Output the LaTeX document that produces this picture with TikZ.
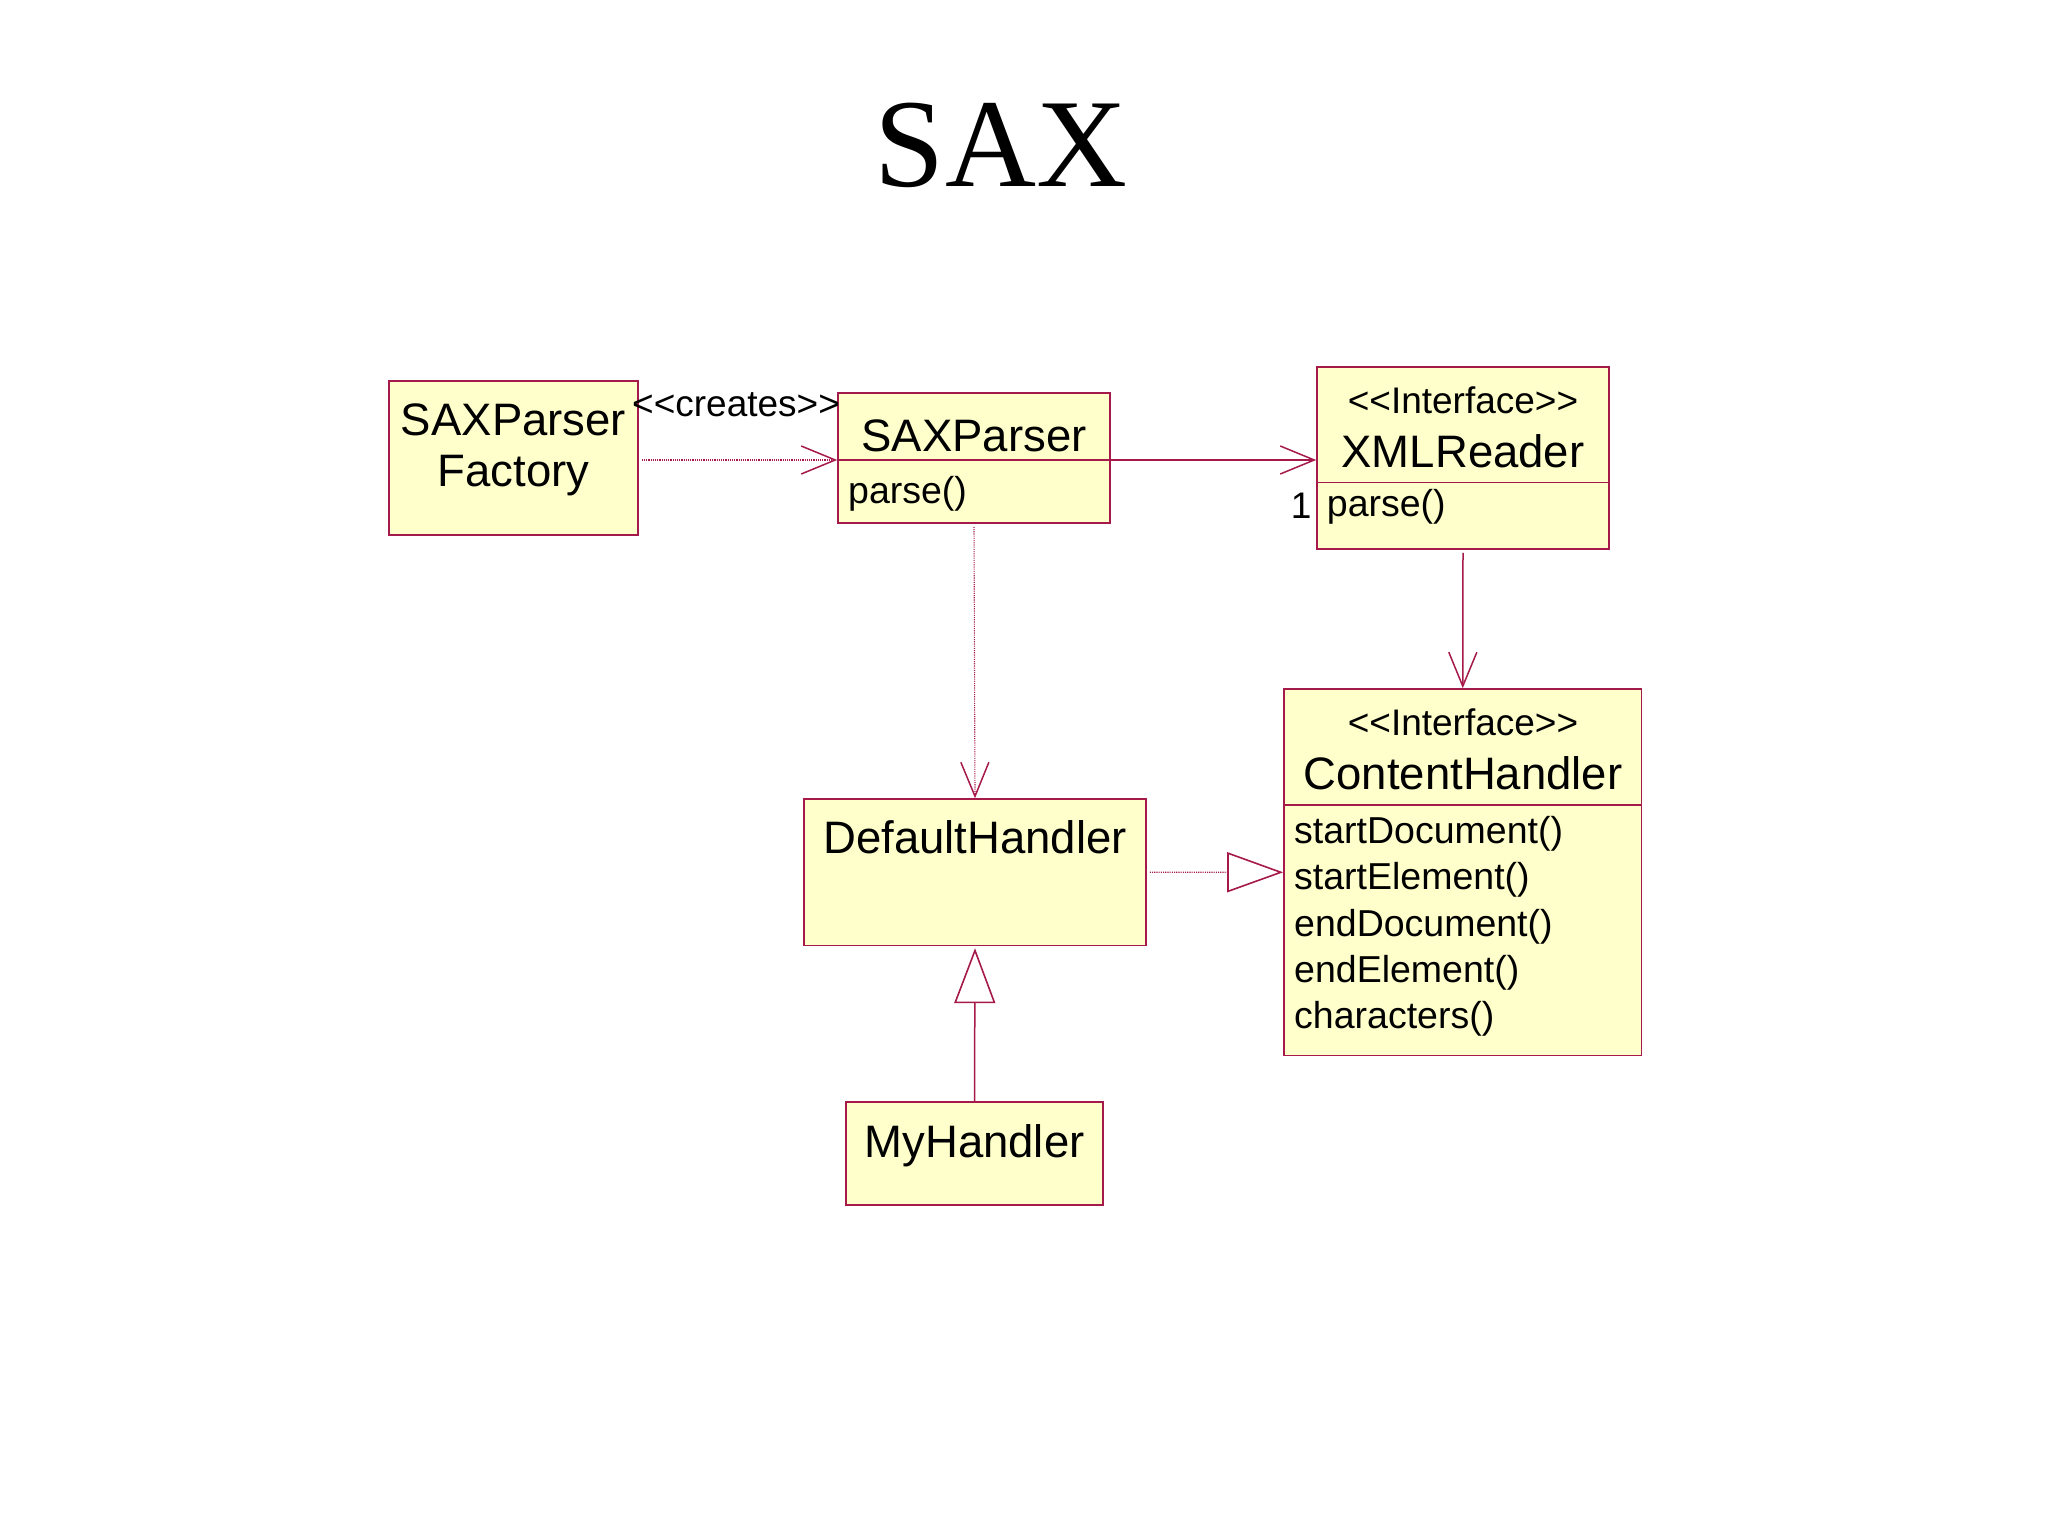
\documentclass[tikz,border=0pt]{standalone}
\usepackage{fontspec}
\setmainfont{Liberation Sans}
\newfontfamily\titlefont{Liberation Serif}
\usetikzlibrary{arrows.meta}
\definecolor{umlline}{RGB}{165,25,75}
\definecolor{umlfill}{RGB}{255,255,204}
\begin{document}
\begin{tikzpicture}[x=1pt,y=-1pt,
  box/.style={draw=umlline, fill=umlfill, line width=1.6pt, inner sep=0pt},
  cls/.style={inner sep=0pt, anchor=base, font=\fontsize{45.5}{50}\selectfont},
  meth/.style={inner sep=0pt, anchor=base west, font=\fontsize{37.5}{42}\selectfont},
  stereo/.style={inner sep=0pt, anchor=base, font=\fontsize{37}{42}\selectfont},
  divider/.style={draw=umlline, line width=1.4pt},
  assoc/.style={draw=umlline, line width=1.5pt, -{Straight Barb[length=34pt,width=28pt,line width=1.5pt]}},
  dep/.style={draw=umlline, line width=1.1pt, dash pattern=on 1.1pt off 1.1pt, -{Straight Barb[length=34pt,width=28pt,line width=1.5pt]}},
  real/.style={draw=umlline, line width=1.1pt, dash pattern=on 1.1pt off 1.1pt, -{Triangle[open,length=56pt,width=40pt,line width=1.6pt]}},
  gen/.style={draw=umlline, line width=1.5pt, -{Triangle[open,length=55pt,width=41pt,line width=1.6pt]}}]
\useasboundingbox (0,0) rectangle (2048,1536);

% title
\node[anchor=base, inner sep=0pt, font=\titlefont\fontsize{126}{130}\selectfont] (title) at (1001,186.7) {SAX};

% boxes
\node[box, minimum width=249pt, minimum height=154pt] (fac) at (513.5,458) {};
\node[box, minimum width=272pt, minimum height=130.3pt] (sp) at (974,457.85) {};
\node[box, minimum width=292pt, minimum height=182pt] (xr) at (1463,458) {};
\node[box, minimum width=357.5pt, minimum height=366.6pt] (ch) at (1462.75,872.3) {};
\node[box, minimum width=342pt, minimum height=146.3pt] (dh) at (975,872.2) {};
\node[box, minimum width=257pt, minimum height=103.3pt] (my) at (974.5,1153.35) {};

% compartment dividers
\coordinate (spdiv) at (0,460);
\coordinate (xrdiv) at (0,482.5);
\coordinate (chdiv) at (0,805);
\draw[divider] (sp.west |- spdiv) -- (sp.east |- spdiv);
\draw[divider] (xr.west |- xrdiv) -- (xr.east |- xrdiv);
\draw[divider] (ch.west |- chdiv) -- (ch.east |- chdiv);

% texts
\node[cls] (facname1) at (513.5,435) {SAXParser};
\node[cls] (facname2) at (513.5,486.7) {Factory};
\node[cls] (spname) at (974,451) {SAXParser};
\node[meth] (spparse) at (848,503) {parse()};
\node[stereo, anchor=base west] (creates) at (632,416) {<{}<creates>{}>};
\node[stereo] (xrstereo) at (1463,413.3) {<{}<Interface>{}>};
\node[cls] (xrname) at (1463,467.3) {XMLReader};
\node[meth] (xrparse) at (1326.7,516.7) {parse()};
\node[stereo, anchor=base east] (mult) at (1311.7,518) {1};
\node[stereo] (chstereo) at (1463,735) {<{}<Interface>{}>};
\node[cls] (chname) at (1463,789.3) {ContentHandler};
\node[meth] (m1) at (1294,843.3) {startDocument()};
\node[meth] (m2) at (1294,889.7) {startElement()};
\node[meth] (m3) at (1294,936.1) {endDocument()};
\node[meth] (m4) at (1294,982.5) {endElement()};
\node[meth] (m5) at (1294,1028.9) {characters()};
\node[cls] (dhname) at (975,853) {DefaultHandler};
\node[cls] (myname) at (974.5,1157.6) {MyHandler};

% connectors
\draw[dep, shorten <=3pt] (fac.east |- spdiv) -- (sp.west |- spdiv);
\draw[assoc] (sp.east |- spdiv) -- (xr.west |- spdiv);
\draw[assoc, shorten <=3pt] (xr.south) -- (ch.north);
\draw[dep, shorten <=3pt] (sp.south) -- (dh.north);
\draw[real, shorten <=3pt] (dh.east) -- (ch.west);
\draw[gen, shorten >=2pt] (my.north) -- (dh.south);
\end{tikzpicture}
\end{document}
